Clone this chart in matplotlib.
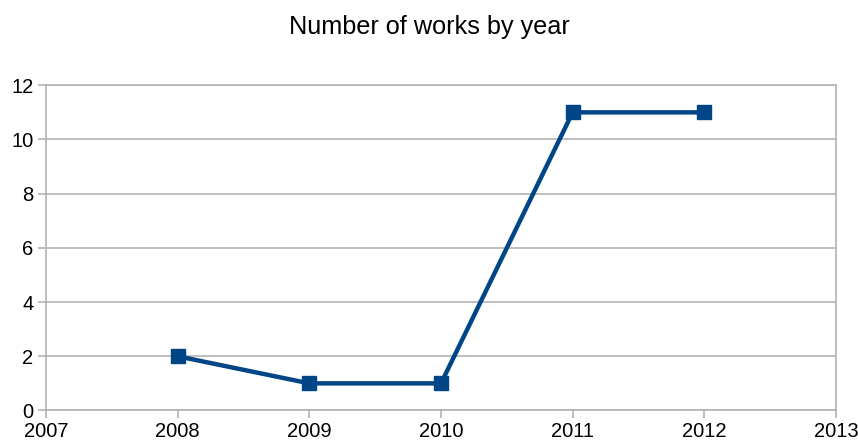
import matplotlib
matplotlib.use("Agg")
from matplotlib import pyplot as plt

years = [2008, 2009, 2010, 2011, 2012]
works = [2, 1, 1, 11, 11]
x_ticks = [2007, 2008, 2009, 2010, 2011, 2012, 2013]
y_ticks = [0, 2, 4, 6, 8, 10, 12]

plt.rcParams['font.family'] = ['Liberation Sans', 'DejaVu Sans']

fig = plt.figure(figsize=(8.58, 4.44), dpi=100)
ax = fig.add_axes([0.0536, 0.0755, 0.9208, 0.7325])

ax.plot(years, works, color="#004586", linewidth=3.2, marker="s",
        markersize=10, zorder=3)

ax.set_xlim(2007, 2013)
ax.set_ylim(0, 12)
ax.set_xticks(x_ticks)
ax.set_yticks(y_ticks)
ax.grid(axis="y", color="#b3b3b3", linewidth=1.2)
ax.set_axisbelow(True)

for s in ax.spines.values():
    s.set_color("#b3b3b3")
    s.set_linewidth(1.2)

ax.tick_params(axis="both", colors="#b3b3b3", labelcolor="black",
               labelsize=14.5, length=6, width=1.2, direction="out")
ax.tick_params(axis="x", pad=2)
ax.tick_params(axis="y", pad=3)

fig.suptitle("Number of works by year", fontsize=18.2, y=0.966)

fig.savefig("out.png", dpi=100)
